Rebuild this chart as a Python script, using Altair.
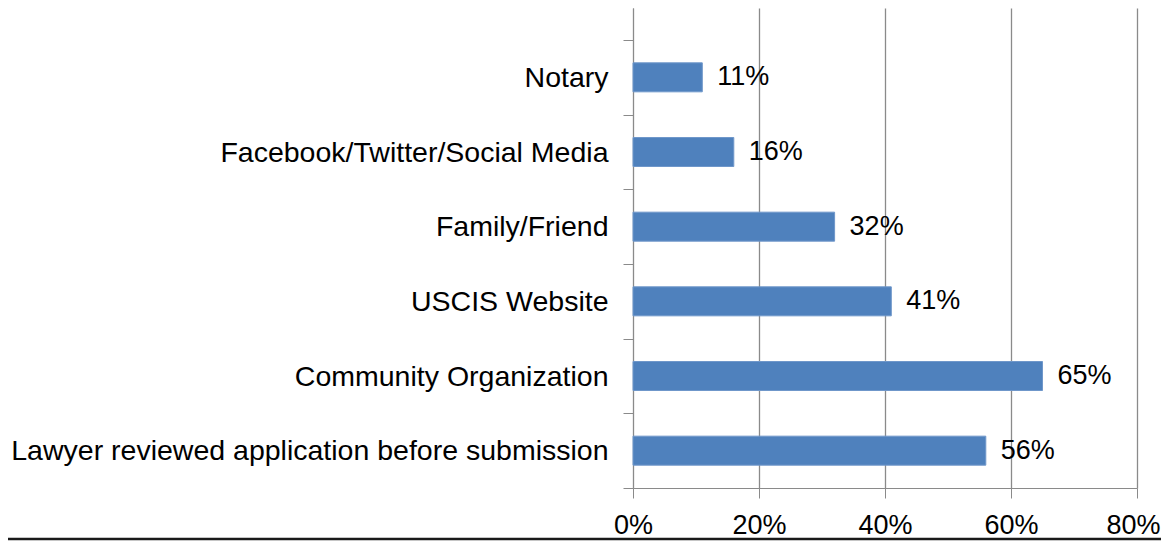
import altair as alt
import pandas as pd

categories = [
    "Notary",
    "Facebook/Twitter/Social Media",
    "Family/Friend",
    "USCIS Website",
    "Community Organization",
    "Lawyer reviewed application before submission",
]
values = [0.11, 0.16, 0.32, 0.41, 0.65, 0.56]
x_ticks = [0, 0.2, 0.4, 0.6, 0.8]

df = pd.DataFrame({"category": categories, "value": values})

FONT = "Liberation Sans"
GRID = "#8a8a8a"

y_enc = alt.Y(
    "category:N",
    sort=categories,
    scale=alt.Scale(paddingInner=0, paddingOuter=0.2143, align=1),
    axis=alt.Axis(
        title=None,
        tickBand="extent",
        tickSize=10,
        tickColor=GRID,
        domainColor=GRID,
        labelFontSize=28.5,
        labelFont=FONT,
        labelColor="#000000",
        labelPadding=15,
        labelLimit=800,
        grid=False,
    ),
)

x_enc = alt.X(
    "value:Q",
    scale=alt.Scale(domain=[0, 0.8], nice=False),
    axis=alt.Axis(
        title=None,
        values=x_ticks,
        format=".0%",
        grid=True,
        gridColor=GRID,
        gridWidth=1.3,
        tickSize=10,
        tickColor=GRID,
        domainColor=GRID,
        labelFontSize=27,
        labelFont=FONT,
        labelColor="#000000",
        labelPadding=14,
        labelFlush=False,
        labelAlign={"condition": {"test": "datum.value >= 0.8", "value": "right"}, "value": "center"},
        labelOffset={"condition": {"test": "datum.value >= 0.8", "value": 23}, "value": 0},
    ),
)

base = alt.Chart(df)

bars = base.mark_bar(size=29, color="#4F81BD", stroke="#6F97CA", strokeWidth=1).encode(
    x=x_enc, y=y_enc
)

labels = base.mark_text(
    align="left", baseline="middle", dx=15, fontSize=27, font=FONT, color="#000000"
).encode(
    x="value:Q",
    y=alt.Y("category:N", sort=categories),
    text=alt.Text("value:Q", format=".0%"),
)

border = alt.Chart(pd.DataFrame({"a": [0]})).mark_rule(
    color="#1a1a1a", strokeWidth=2.5
).encode(
    x=alt.value(-625), x2=alt.value(528), y=alt.value(531)
)

chart = (
    alt.layer(bars, labels, border)
    .properties(
        width=504,
        height=480,
        autosize=alt.AutoSizeParams(type="none"),
        padding={"left": 625, "top": 0, "right": 24, "bottom": 53},
    )
    .configure_view(stroke=None)
)

chart.save("out.html", embed_options={"renderer": "svg", "actions": False})
